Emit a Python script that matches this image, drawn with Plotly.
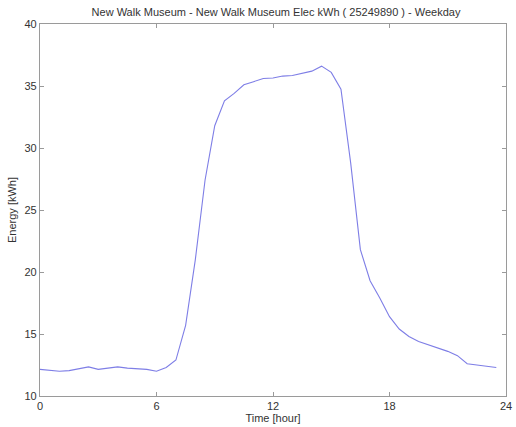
import plotly.graph_objects as go

# Half-hourly weekday electricity profile
hours = [i * 0.5 for i in range(48)]
energy_kwh = [
    12.15, 12.05, 12.00, 12.05, 12.20, 12.35, 12.15, 12.25,
    12.35, 12.25, 12.20, 12.15, 12.00, 12.30, 12.90, 15.70,
    21.00, 27.40, 31.80, 33.80, 34.40, 35.10, 35.35, 35.60,
    35.65, 35.80, 35.85, 36.00, 36.20, 36.60, 36.10, 34.75,
    28.80, 21.80, 19.30, 17.90, 16.40, 15.40, 14.80, 14.40,
    14.15, 13.90, 13.60, 13.25, 12.60, 12.50, 12.42, 12.30,
]

x_ticks = [0, 6, 12, 18, 24]
y_ticks = [10, 15, 20, 25, 30, 35, 40]

title_text = "New Walk Museum - New Walk Museum Elec kWh ( 25249890 ) - Weekday"
font_family = "Liberation Sans, Arial, sans-serif"

fig = go.Figure()
fig.add_trace(go.Scatter(
    x=hours, y=energy_kwh, mode="lines",
    line=dict(color="#7e7ee6", width=1.1),
    showlegend=False, hoverinfo="skip",
))

axis_common = dict(
    showgrid=False, zeroline=False,
    showline=True, linecolor="#9a9a9a", linewidth=1.2,
    mirror="ticks", ticks="inside", ticklen=4, tickcolor="#9a9a9a",
    ticklabeloverflow="allow",
    tickfont=dict(family=font_family, size=11, color="#333333"),
)

fig.update_xaxes(
    range=[0, 24], tickvals=x_ticks, ticktext=[str(v) for v in x_ticks],
    title=dict(text="Time [hour]", standoff=2,
               font=dict(family=font_family, size=11, color="#333333")),
    **axis_common,
)
fig.update_yaxes(
    range=[10, 40], tickvals=y_ticks, ticktext=[str(v) for v in y_ticks],
    title=dict(text="Energy [kWh]", standoff=5,
               font=dict(family=font_family, size=11, color="#333333")),
    **axis_common,
)

fig.update_layout(
    width=516, height=427,
    margin=dict(l=40, r=4, t=24, b=31),
    paper_bgcolor="white", plot_bgcolor="white",
    title=dict(text=title_text, x=(40 + 512) / 2 / 516, xanchor="center",
               y=1 - 12 / 427, yanchor="middle",
               font=dict(family=font_family, size=11, color="#333333")),
)

fig.write_html("out.html")
